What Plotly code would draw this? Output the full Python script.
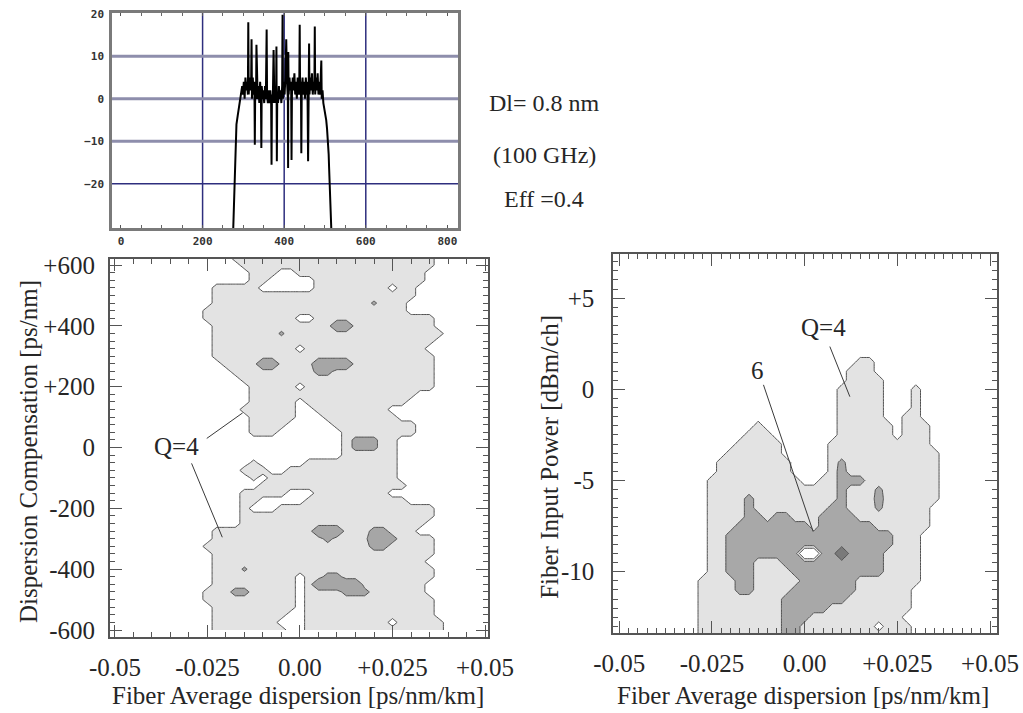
import re
import plotly.graph_objects as go

SERIF = "Liberation Serif, Times New Roman, serif"
MONO = "DejaVu Sans Mono, monospace"
INK = "#262626"
FRAME = "#555555"

# ---------------- inset: optical spectrum of the WDM comb ----------------
spec_x = [275, 277, 279, 281, 283, 286, 289, 292, 295, 297, 299, 301, 303, 305,
          307, 309, 311, 312, 313, 315, 317, 319, 320, 321, 323, 325, 327, 328,
          329, 331, 332, 333, 335, 337, 339, 341, 343, 344, 345, 347, 349, 351,
          353, 355, 357, 358, 360, 362, 364, 366, 368, 369, 370, 372, 374, 376,
          378, 380, 381, 382, 383, 385, 387, 389, 391, 393, 395, 396, 397, 399,
          401, 403, 405, 407, 409, 409.6, 410, 411, 413, 415, 417, 418, 419, 421,
          423, 425, 427, 429, 431, 433, 435, 437, 438, 439, 441, 442, 443, 445,
          447, 449, 451, 453, 455, 457, 458.6, 459, 461, 462, 464, 466, 468, 470,
          472, 474, 475, 476, 478, 480, 482, 484, 486, 488, 490, 491, 492, 494,
          496, 499, 501, 503, 505, 507, 509, 510, 511.5, 513, 514, 515.6]
spec_y = [-31, -24, -16, -8, -6, -4, -2, 0, 1, 3, 1, 4, 0, 5,
          2, 4, 1, 18, 1, 5, 2, 4, 14, 0, 5, 1, 4, -10.8,
          3, 0, 12.7, 4, 0, 3, -1, 4, 0, -11.6, 3, 0, 2, -1,
          3, 0, 16.3, 1, -1, 2, -1, 2, -1, -15.5, 1, -1, 11.5, -1,
          3, -1, 12.3, -14.7, 1, -1, 3, 0, 2, -1, 3, 19.8, 0, 4,
          1, 5, 14, 4, 0, -16.3, 11, 1, 5, 2, 4, -14.4, 1, 5,
          2, 6, 1, 4, 0, 5, 1, 3, 17.4, 1, 4, -12.8, 2, 5,
          1, 4, 0, 5, 1, 4, -14.7, 2, 13, 1, 5, 2, 6, 1,
          4, 2, 17, 1, 5, 2, 6, 1, 4, 1, 5, 9, 0, 2,
          -1, -2.6, -4, -5, -7, -9.6, -13, -16, -20.6, -25, -27, -31]

spec_xticks = [0, 200, 400, 600, 800]
spec_yticks = [-20, -10, 0, 10, 20]
spec_vgrid = [200, 400, 600]
spec_hgrid_wide = [-10, 0, 10]
spec_hgrid_thin = [-20]

# ---------------- Q-factor maps ----------------
# symbol -> Q value on the simulation grid
q_of = {'.': 3.0, 'o': 5.0, '#': 7.0, '@': 9.0, 'd': 6.4, '%': 6.6,
        'q': 4.6, '_': 0.0, '*': 11.0}

# dispersion grid shared by both maps (ps/nm/km), 33 columns
disp_grid = [round(-0.035 + 0.0025 * i, 4) for i in range(33)]

# left map: dispersion compensation (ps/nm), rows from +625 down to -600
# each row is run-length coded: <count><symbol> ...
comp_grid = [625 - 25 * r for r in range(50)]
comp_rows = [
    "7. 22o 4.",
    "8. 21o 4.",
    "9. 3o 2. 14o 5.",
    "9. 2o 5. 12o 5.",
    "5. 5o 6. 8o 1. 2o 6.",
    "5. 22o 6.",
    "5. 17o 1d 3o 7.",
    "4. 22o 7.",
    "4. 10o 2. 13o 4.",
    "5. 13o 2@ 9o 4.",
    "5. 7o 1d 17o 3.",
    "5. 24o 4.",
    "5. 9o 1. 13o 5.",
    "5. 24o 4.",
    "6. 4o 2@ 4o 4@ 9o 4.",
    "7. 9o 2# 11o 4.",
    "8. 21o 4.",
    "9. 5o 1. 14o 4.",
    "9. 18o 6.",
    "9. 5o 1. 11o 7.",
    "8. 6o 2. 8o 9.",
    "9. 5o 3. 8o 8.",
    "9. 4o 5. 9o 6.",
    "9. 3o 7. 8o 6.",
    "19. 1o 3% 2o 8.",
    "19. 1o 3% 2o 8.",
    "19. 6o 8.",
    "9. 1q 5. 10o 8.",
    "8. 3o 2. 12o 8.",
    "9. 1q 1. 14o 8.",
    "10. 16o 7.",
    "8. 5o 3. 8o 9.",
    "8. 2o 5. 11o 7.",
    "8. 1o 3. 17o 4.",
    "8. 21o 4.",
    "8. 20o 5.",
    "5. 11o 3@ 3o 2# 3o 6.",
    "5. 12o 1# 4o 2@ 1# 4o 4.",
    "4. 18o 2# 5o 4.",
    "5. 24o 4.",
    "5. 23o 5.",
    "5. 3o 1d 20o 4.",
    "5. 9o 1. 2o 2# 10o 4.",
    "5. 9o 1. 1o 5@ 7o 5.",
    "4. 3o 2# 5o 1. 4o 3# 6o 5.",
    "4. 10o 1. 14o 4.",
    "5. 9o 1. 14o 4.",
    "5. 8o 2. 14o 4.",
    "5. 7o 3. 9o 1. 5o 3.",
    "5. 8o 2. 15o 3.",
]

# right map: fiber input power (dBm/ch), rows from +2.5 down to -13.5
power_grid = [2.5 - 0.5 * r for r in range(33)]
power_rows = [
    "33.",
    "33.",
    "20. 2o 11.",
    "19. 3o 11.",
    "19. 4o 10.",
    "18. 5o 3. 1o 6.",
    "18. 5o 3. 1o 6.",
    "18. 5o 3. 1o 6.",
    "18. 5o 2. 2o 6.",
    "9. 1o 8. 6o 1. 3o 5.",
    "8. 3o 7. 6o 1. 3o 5.",
    "7. 5o 5. 11o 5.",
    "6. 6o 5. 12o 4.",
    "5. 8o 4. 1o 1% 10o 4.",
    "5. 8o 4. 1o 1# 10o 4.",
    "4. 10o 2. 2o 3# 8o 4.",
    "4. 14o 1# 3o 1% 6o 4.",
    "4. 4o 1# 9o 1# 3o 1# 6o 4.",
    "4. 4o 1# 8o 2# 3o 1% 5o 5.",
    "4. 4o 2# 1o 2# 3o 4# 8o 5.",
    "4. 3o 8# 1o 6# 6o 5.",
    "4. 2o 18# 3o 6.",
    "4. 2o 18# 3o 6.",
    "4. 2o 8# 2_ 2# 1* 4# 4o 6.",
    "4. 2o 3# 3o 11# 4o 6.",
    "4. 2o 3# 4o 10# 4o 6.",
    "3. 4o 2# 5o 6# 7o 6.",
    "3. 4o 2# 4o 7# 6o 7.",
    "3. 9o 7# 7o 7.",
    "3. 9o 5# 9o 7.",
    "3. 9o 3# 10o 8.",
    "3. 9o 2# 8o 1. 3o 7.",
    "3. 9o 2# 12o 7.",
]

comp_ticks = [-600, -400, -200, 0, 200, 400, 600]
comp_ticktext = ["-600", "-400", "-200", "0", "+200", "+400", "+600"]
power_ticks = [-10, -5, 0, 5]
power_ticktext = ["-10", "-5", "0", "+5"]
disp_ticks = [-0.05, -0.025, 0.0, 0.025, 0.05]
disp_ticktext = ["-0.05", "-0.025", "0.00", "+0.025", "+0.05"]


def to_matrix(rows, n_cols):
    mat = []
    for code in rows:
        row = "".join(sym * int(n) for n, sym in re.findall(r"(\d+)(\D)", code.replace(" ", "")))
        row = (row + "." * n_cols)[:n_cols]
        mat.append([q_of[ch] for ch in row])
    return mat


comp_z = to_matrix(comp_rows, len(disp_grid))
power_z = to_matrix(power_rows, len(disp_grid))

fig = go.Figure()

fig.add_trace(go.Scatter(
    x=spec_x, y=spec_y, mode="lines", xaxis="x", yaxis="y",
    line=dict(color="#000000", width=2), hoverinfo="skip", showlegend=False))

fig.add_trace(go.Contour(
    x=disp_grid, y=comp_grid[::-1], z=comp_z[::-1], xaxis="x2", yaxis="y2",
    autocontour=False,
    contours=dict(start=4, end=6, size=2, coloring="fill", showlines=True),
    colorscale=[[0, "#ffffff"], [0.5, "#e3e3e3"], [1, "#a6a6a6"]],
    line=dict(color="#505050", width=1, smoothing=0),
    showscale=False, hoverinfo="skip"))

fig.add_trace(go.Contour(
    x=disp_grid, y=power_grid[::-1], z=power_z[::-1], xaxis="x3", yaxis="y3",
    autocontour=False,
    contours=dict(start=4, end=8, size=2, coloring="fill", showlines=True),
    colorscale=[[0, "#ffffff"], [1 / 3, "#e3e3e3"], [2 / 3, "#a8a8a8"], [1, "#7a7a7a"]],
    line=dict(color="#505050", width=1, smoothing=0),
    showscale=False, hoverinfo="skip"))


def map_axis(**kw):
    base = dict(showgrid=False, zeroline=False, showline=True, linecolor=FRAME,
                linewidth=2, mirror="ticks", ticks="inside", ticklen=12,
                tickwidth=1.3, tickcolor=FRAME, automargin=False,
                tickfont=dict(family=SERIF, size=25, color=INK))
    base.update(kw)
    return base


shapes = []
for v in spec_vgrid:
    shapes.append(dict(type="line", xref="x", yref="y domain", x0=v, x1=v, y0=0, y1=1,
                       line=dict(color="#2e2e7e", width=1.5), layer="below"))
for h in spec_hgrid_wide:
    shapes.append(dict(type="line", xref="x domain", yref="y", x0=0, x1=1, y0=h, y1=h,
                       line=dict(color="#8e8eac", width=3), layer="below"))
for h in spec_hgrid_thin:
    shapes.append(dict(type="line", xref="x domain", yref="y", x0=0, x1=1, y0=h, y1=h,
                       line=dict(color="#2e2e7e", width=1.5), layer="below"))

# leader lines for the contour labels (tail, head) in data units
leaders = [
    ("x2", "y2", -0.0252, 30, -0.0155, 114),
    ("x2", "y2", -0.0293, -52, -0.0210, -295),
    ("x3", "y3", 0.0068, 2.35, 0.0122, -0.40),
    ("x3", "y3", -0.0111, 0.25, 0.0023, -7.8),
]
for xr, yr, x0, y0, x1, y1 in leaders:
    shapes.append(dict(type="line", xref=xr, yref=yr, x0=x0, y0=y0, x1=x1, y1=y1,
                       line=dict(color="#3a3a3a", width=1)))


def label(text, x, y, xref="paper", yref="paper", size=25, angle=0):
    return dict(text=text, x=x, y=y, xref=xref, yref=yref, showarrow=False,
                xanchor="center", yanchor="middle", textangle=angle,
                font=dict(family=SERIF, size=size, color=INK))


annotations = [
    label("Q=4", -0.0333, 3, "x2", "y2"),
    label("Q=4", 0.0052, 3.37, "x3", "y3"),
    label("6", -0.0127, 1.04, "x3", "y3"),
    label("Dl= 0.8 nm", 0.5318, 0.8555, size=24),
    label("(100 GHz)", 0.5318, 0.7826, size=24),
    label("Eff =0.4", 0.5318, 0.7209, size=24),
    label("Dispersion Compensation [ps/nm]", 0.0274, 0.366, angle=-90),
    label("Fiber Input Power [dBm/ch]", 0.5365, 0.359, angle=-90),
    label("Fiber Average dispersion [ps/nm/km]", 0.2913, 0.0252),
    label("Fiber Average dispersion [ps/nm/km]", 0.785, 0.0252),
]

small_tick_font = dict(family=MONO, size=11, color="#333", weight="bold")

fig.update_layout(
    template="none",
    width=1023, height=713, margin=dict(l=0, r=0, t=0, b=0, autoexpand=False),
    paper_bgcolor="white", plot_bgcolor="white", showlegend=False,
    xaxis=dict(domain=[0.1095, 0.4477], range=[-22, 826], anchor="y",
               tickvals=spec_xticks, showgrid=False, zeroline=False, automargin=False,
               showline=True, linecolor="#7a7a7a", linewidth=2.5, mirror="ticks",
               ticks="inside", ticklen=3, tickcolor="#555",
               minor=dict(dtick=50, tick0=0, ticks="inside", ticklen=3, tickcolor="#666"),
               tickfont=small_tick_font, ticklabelstandoff=1),
    yaxis=dict(domain=[0.6802, 0.9818], range=[-30.4, 20.2], anchor="x",
               tickvals=spec_yticks, showgrid=False, zeroline=False, automargin=False,
               showline=True, linecolor="#7a7a7a", linewidth=2.5, mirror=True,
               ticks="", tickfont=small_tick_font, ticklabelstandoff=3),
    xaxis2=map_axis(domain=[0.1075, 0.4770], range=[-0.05135, 0.0508], anchor="y2",
                    tickvals=disp_ticks, ticktext=disp_ticktext,
                    minor=dict(dtick=0.005, tick0=0, ticks="inside", ticklen=5,
                               tickcolor=FRAME),
                    ticklabelstandoff=7),
    yaxis2=map_axis(domain=[0.1066, 0.6367], range=[-623, 620], anchor="x2",
                    tickvals=comp_ticks, ticktext=comp_ticktext,
                    minor=dict(dtick=25, tick0=0, ticks="inside", ticklen=5,
                               tickcolor=FRAME),
                    ticklabelstandoff=8),
    xaxis3=map_axis(domain=[0.5995, 0.9743], range=[-0.0516, 0.0518], anchor="y3",
                    tickvals=disp_ticks, ticktext=disp_ticktext,
                    minor=dict(dtick=0.0025, tick0=0, ticks="inside", ticklen=5,
                               tickcolor=FRAME),
                    ticklabelstandoff=7),
    yaxis3=map_axis(domain=[0.1122, 0.6431], range=[-13.36, 7.40], anchor="x3",
                    tickvals=power_ticks, ticktext=power_ticktext,
                    minor=dict(dtick=0.5, tick0=0, ticks="inside", ticklen=5,
                               tickcolor=FRAME),
                    ticklabelstandoff=12),
    shapes=shapes,
    annotations=annotations,
)

fig.write_html("out.html")
